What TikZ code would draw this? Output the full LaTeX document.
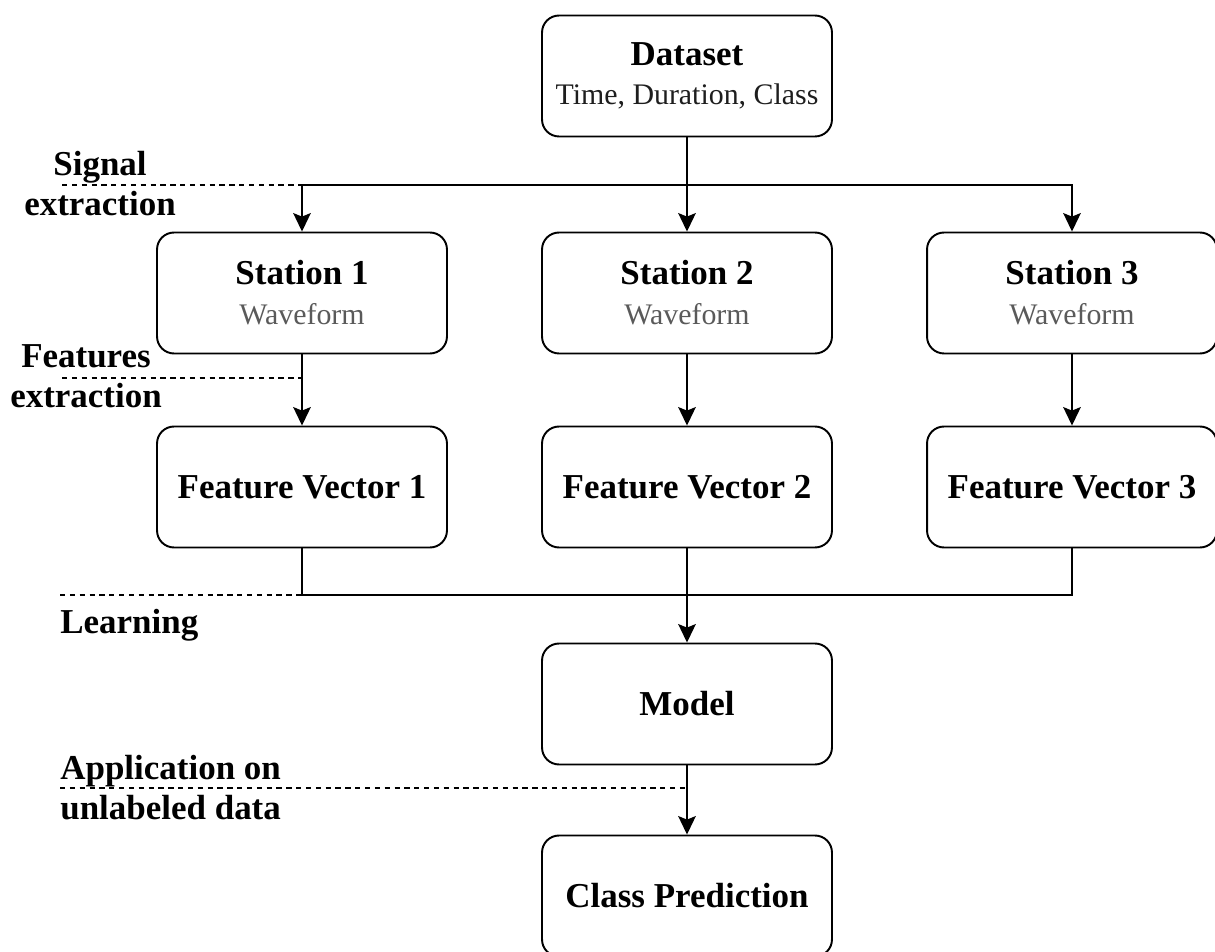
\documentclass[tikz,border=0pt]{standalone}
\usepackage{fontspec}
\setmainfont{Liberation Serif}
\usepackage{tikz}
\usetikzlibrary{arrows.meta,positioning,calc}
\definecolor{FlowBlack}{HTML}{000000}
\definecolor{FlowWhite}{HTML}{ffffff}
\definecolor{FlowGray}{HTML}{5a5a5a}
\definecolor{FlowDark}{HTML}{1e1e1e}
\newcommand{\stagefont}{\fontsize{19.9pt}{22.8pt}\selectfont\bfseries}
\newcommand{\subfont}{\fontsize{17pt}{22.8pt}\selectfont\mdseries}
\tikzset{
    % Base box style
    stagebox/.style={
        draw=FlowBlack,
        fill=FlowWhite,
        line width=1.1pt,
        rounded corners=0.34cm,
        minimum width=5.8cm,
        minimum height=2.42cm,
        align=center,
        font=\stagefont
    },
    % Phase label on the left
    phaselabel/.style={
        align=center,
        inner sep=0pt,
        font=\stagefont
    },
    % Left aligned phase label
    phaselabelleft/.style={
        phaselabel,
        align=left,
        anchor=west
    },
    % Arrow style
    myarrow/.style={
        -{Stealth[length=10.5pt,width=10pt,inset=2pt]},
        line width=1.1pt,
        draw=FlowBlack
    },
    % Plain connector
    myline/.style={
        line width=1.1pt,
        draw=FlowBlack
    },
    % Phase separator
    phaseline/.style={
        dash pattern=on 3pt off 2.6pt,
        line width=0.8pt,
        draw=FlowBlack
    }
}
\begin{document}
\begin{tikzpicture}[x=0.02cm,y=-0.02cm]
    \useasboundingbox (0,0) rectangle (1215,952);
    % boxes
    \node[stagebox] (ds) at (687,76) {Dataset\\[-1pt]{\subfont\color{FlowDark}Time, Duration, Class}};
    \node[stagebox] (s1) at (302,293) {Station 1\\{\subfont\color{FlowGray}Waveform}};
    \node[stagebox] (s2) at (687,293) {Station 2\\{\subfont\color{FlowGray}Waveform}};
    \node[stagebox] (s3) at (1072,293) {Station 3\\{\subfont\color{FlowGray}Waveform}};
    \node[stagebox] (fv1) at (302,487) {Feature Vector 1};
    \node[stagebox] (fv2) at (687,487) {Feature Vector 2};
    \node[stagebox] (fv3) at (1072,487) {Feature Vector 3};
    \node[stagebox] (model) at (687,704) {Model};
    \node[stagebox] (cp) at (687,896) {Class Prediction};
    % split and merge points
    \coordinate (split) at (687,185);
    \coordinate (merge) at (687,595);
    \draw[myarrow] (ds) -- (s2);
    \draw[myarrow] (split) -| (s1);
    \draw[myarrow] (split) -| (s3);
    \draw[myarrow] (s1) -- (fv1);
    \draw[myarrow] (s2) -- (fv2);
    \draw[myarrow] (s3) -- (fv3);
    \draw[myline] (fv1) |- (merge);
    \draw[myline] (fv3) |- (merge);
    \draw[myarrow] (fv2) -- (model);
    \draw[myarrow] (model) -- (cp);
    % phases
    \coordinate (sigL) at (62,185);
    \coordinate (featL) at (62,378);
    \coordinate (learnL) at (60,595);
    \coordinate (appL) at (60,788);
    \draw[phaseline] (sigL) -- (sigL -| s1);
    \draw[phaseline] (featL) -- (featL -| s1);
    \draw[phaseline] (learnL) -- (learnL -| fv1);
    \draw[phaseline] (appL) -- (appL -| model);
    \node[phaselabel] (sigtxt) at (100,184) {Signal\\extraction};
    \node[phaselabel] (feattxt) at (86,376) {Features\\extraction};
    \node[phaselabelleft] (learntxt) at (60,625) {Learning};
    \node[phaselabelleft] (apptxt) at (60,788) {Application on\\unlabeled data};
\end{tikzpicture}
\end{document}
